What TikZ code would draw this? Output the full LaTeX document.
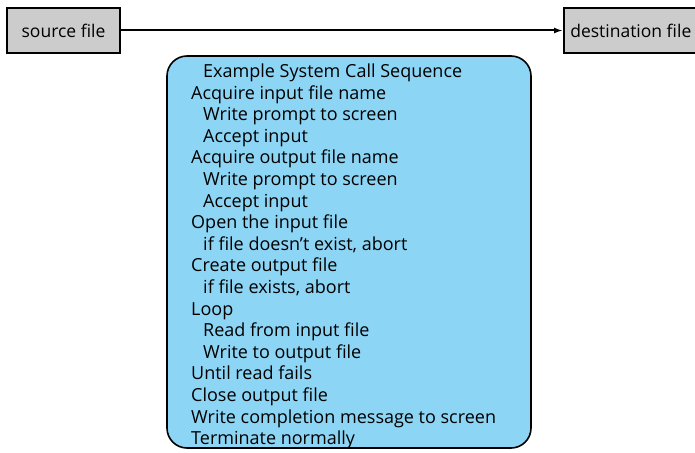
\documentclass[tikz,border=0pt]{standalone}
\usepackage{fontspec}
\setmainfont{Open Sans}
\usetikzlibrary{arrows.meta, positioning}

\begin{document}
\begin{tikzpicture}[
    x=1pt, y=-1pt,
    arr/.style={-{Latex[length=9pt, width=6pt]}, line width=2pt},
    filebox/.style={rectangle, draw, line width=1.6pt, fill=black!20, minimum height=45pt, font=\fontsize{17.5}{20}\selectfont, inner xsep=6pt},
    seqbox/.style={rectangle, draw, line width=1.6pt, rounded corners=20pt, fill=seqblue, minimum width=364pt, minimum height=392pt},
    line/.style={anchor=base west, inner sep=0pt, font=\fontsize{18}{20}\selectfont},
]
\definecolor{seqblue}{HTML}{8DD5F5}
\useasboundingbox (0,0) rectangle (695,452);

% Files
\node[filebox, minimum width=113pt] (src) at (63.5,30.5) {source file};
\node[filebox, minimum width=134pt, anchor=west] (dst) at (563,30.5) {destination file};
\draw[arr] (src.east) -- (dst.west);

% Call sequence
\node[seqbox] (seq) at (349,252) {};
\foreach \txt/\ind [count=\i from 0] in {
    Example System Call Sequence/1,
    Acquire input file name/0,
    Write prompt to screen/1,
    Accept input/1,
    Acquire output file name/0,
    Write prompt to screen/1,
    Accept input/1,
    Open the input file/0,
    if file doesn’t exist{,} abort/1,
    Create output file/0,
    if file exists{,} abort/1,
    Loop/0,
    Read from input file/1,
    Write to output file/1,
    Until read fails/0,
    Close output file/0,
    Write completion message to screen/0,
    Terminate normally/0}
    \node[line] (l\i) at (191+12*\ind, 77.5+21.6*\i) {\txt};

\end{tikzpicture}
\end{document}
